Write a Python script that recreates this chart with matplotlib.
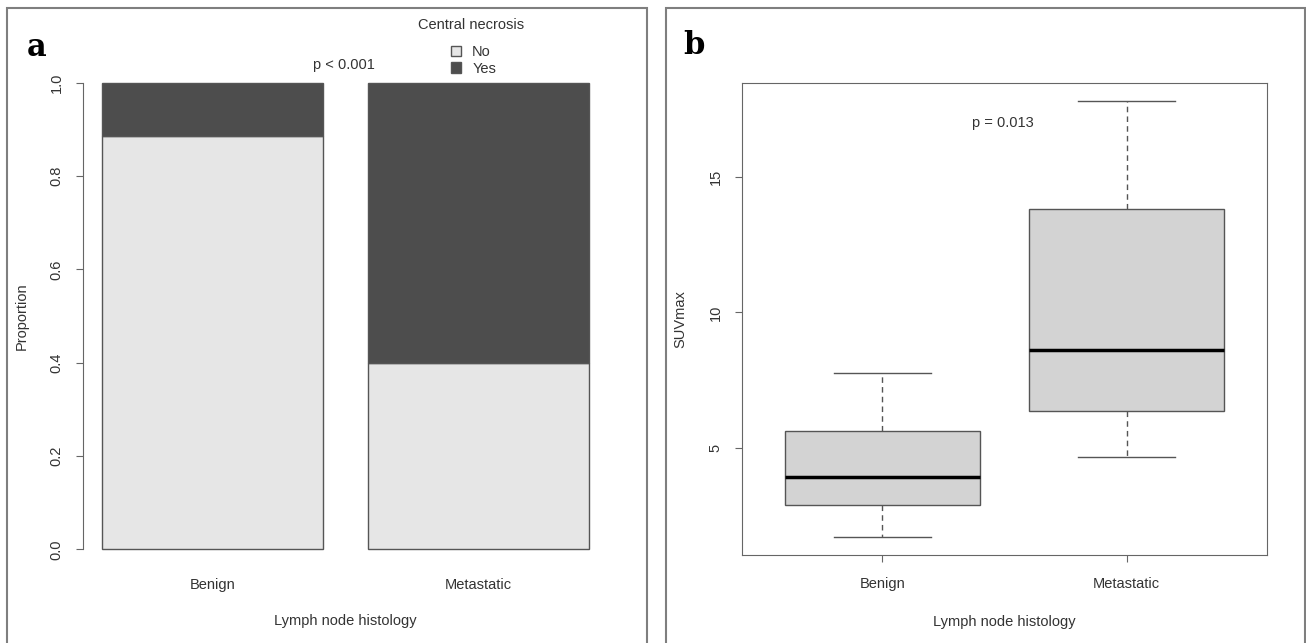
import numpy as np
import matplotlib
matplotlib.use("Agg")
import matplotlib.pyplot as plt
from matplotlib.patches import Rectangle, Patch

W, H = 1306, 643

# panel a: proportion of central necrosis per histology
groups = ["Benign", "Metastatic"]
necrosis_no = [0.885, 0.40]
necrosis_yes = [0.115, 0.60]
prop_ticks = [0.0, 0.2, 0.4, 0.6, 0.8, 1.0]

# panel b: SUVmax box summaries per histology
suv_low = [1.72, 4.67]
suv_q1 = [2.90, 6.37]
suv_med = [3.93, 8.62]
suv_q3 = [5.63, 13.82]
suv_high = [7.77, 17.80]
suv_ticks = [5, 10, 15]

plt.rcParams["font.family"] = ["Liberation Sans", "DejaVu Sans"]
plt.rcParams["font.size"] = 10.5
TXT = "#333333"
LINE = "#555555"
AXC = "#666666"


def px_axes(fig, x0, y0, x1, y1):
    # axes from pixel box (top-left origin)
    return fig.add_axes([x0 / W, 1 - y1 / H, (x1 - x0) / W, (y1 - y0) / H])


def px_text(fig, x, y, s, **kw):
    return fig.text(x / W, 1 - y / H, s, **kw)


fig = plt.figure(figsize=(W / 100, H / 100), dpi=100)

# panel frames
for x0, x1 in [(7, 647), (666, 1305)]:
    fig.patches.append(Rectangle((x0 / W, -0.02), (x1 - x0) / W, 1 - 8 / H + 0.02,
                                 transform=fig.transFigure, fill=False,
                                 ec="#7f7f7f", lw=1.5))

# ---- panel a: stacked bars ----
ax1 = px_axes(fig, 83, 64, 608, 568)
pos = [0.7, 1.9]
ax1.bar(pos, necrosis_no, width=1.0, color="#e6e6e6", edgecolor=LINE, lw=1)
ax1.bar(pos, necrosis_yes, width=1.0, bottom=necrosis_no, color="#4d4d4d",
        edgecolor=LINE, lw=1)
ax1.set_xlim(0.112, 2.488)
ax1.set_ylim(-0.04, 1.04)
for s in ["top", "right", "bottom"]:
    ax1.spines[s].set_visible(False)
ax1.spines["left"].set_bounds(0, 1)
ax1.spines["left"].set_color(AXC)
ax1.set_yticks(prop_ticks, [f"{t:.1f}" for t in prop_ticks])
ax1.set_xticks(pos, groups)
ax1.tick_params(axis="y", length=5, color=AXC, labelcolor=TXT, pad=9)
ax1.tick_params(axis="x", length=0, labelcolor=TXT, pad=7)
for lab in ax1.get_yticklabels():
    lab.set_rotation(90)
    lab.set_va("center")
ax1.set_ylabel("Proportion", color=TXT, labelpad=15)
ax1.set_xlabel("Lymph node histology", color=TXT, labelpad=16)

# legend: title as its own text, entries below
px_text(fig, 471, 25, "Central necrosis", ha="center", va="center", color=TXT)
handles = [Patch(facecolor="#e6e6e6", edgecolor=LINE, lw=1),
           Patch(facecolor="#4d4d4d", edgecolor=LINE, lw=1)]
leg = fig.legend(handles, ["No", "Yes"], loc="upper left",
                 bbox_to_anchor=(451 / W, 1 - 45 / H), frameon=False,
                 handlelength=0.7, handleheight=0.7, handletextpad=0.75,
                 labelspacing=0.18, borderpad=0, borderaxespad=0)
for t in leg.get_texts():
    t.set_color(TXT)

px_text(fig, 344, 65, "p < 0.001", ha="center", va="center", color=TXT)
px_text(fig, 37, 47, "a", ha="center", va="center", family="DejaVu Serif",
        weight="bold", size=22, color="black")

# ---- panel b: boxplot ----
ax2 = px_axes(fig, 742, 83, 1267, 555)
stats = [dict(label=g, whislo=lo, q1=a, med=m, q3=b, whishi=hi, fliers=[])
         for g, lo, a, m, b, hi in zip(groups, suv_low, suv_q1, suv_med, suv_q3, suv_high)]
ax2.bxp(stats, positions=[1, 2], widths=0.8, capwidths=0.4, patch_artist=True,
        showfliers=False,
        boxprops=dict(facecolor="#d3d3d3", edgecolor=LINE, lw=1),
        medianprops=dict(color="black", lw=2.5),
        whiskerprops=dict(color=LINE, lw=1, ls=(0, (4, 3))),
        capprops=dict(color=LINE, lw=1))
ax2.set_xlim(0.425, 2.575)
ax2.set_ylim(1.05, 18.47)
for s in ax2.spines.values():
    s.set_color(AXC)
ax2.set_yticks(suv_ticks, [str(t) for t in suv_ticks])
ax2.tick_params(axis="both", length=5, color=AXC, labelcolor=TXT)
ax2.tick_params(axis="y", pad=9)
ax2.tick_params(axis="x", pad=11)
for lab in ax2.get_yticklabels():
    lab.set_rotation(90)
    lab.set_va("center")
ax2.set_ylabel("SUVmax", color=TXT, labelpad=15)
ax2.set_xlabel("Lymph node histology", color=TXT, labelpad=17)

px_text(fig, 1003, 123, "p = 0.013", ha="center", va="center", color=TXT)
px_text(fig, 694, 46, "b", ha="center", va="center", family="DejaVu Serif",
        weight="bold", size=22, color="black")

fig.savefig("out.png", dpi=100, facecolor="white")
